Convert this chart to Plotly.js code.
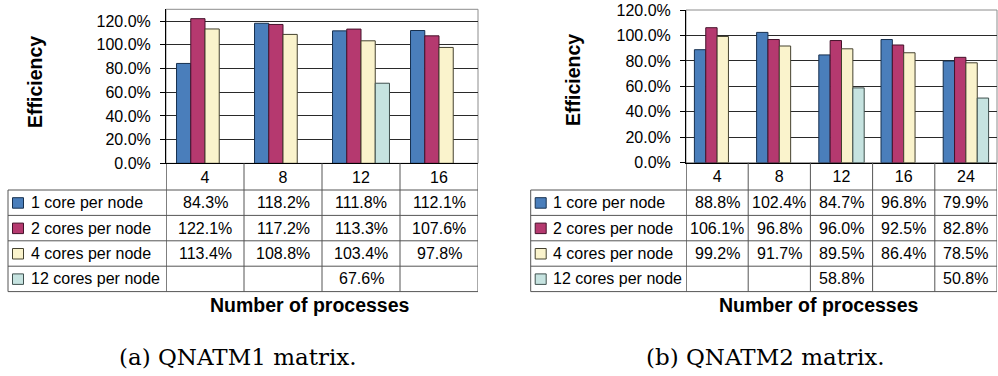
<!DOCTYPE html>
<html>
<head>
<meta charset="utf-8">
<script src="https://cdn.plot.ly/plotly-3.0.1.min.js"></script>
<style>
  html, body { margin: 0; padding: 0; background: #fff; }
  #chart { width: 998px; height: 376px; }
</style>
</head>
<body>
<div id="chart"></div>
<script>
// Process counts for each matrix
const procsQ1 = ['4', '8', '12', '16'];
const procsQ2 = ['4', '8', '12', '16', '24'];
const seriesNames = ['1 core per node', '2 cores per node', '4 cores per node', '12 cores per node'];

// Parallel efficiency (%) - QNATM1
const q1Core1 = [84.3, 118.2, 111.8, 112.1];
const q1Core2 = [122.1, 117.2, 113.3, 107.6];
const q1Core4 = [113.4, 108.8, 103.4, 97.8];
const q1Core12 = [null, null, 67.6, null];

// Parallel efficiency (%) - QNATM2
const q2Core1 = [88.8, 102.4, 84.7, 96.8, 79.9];
const q2Core2 = [106.1, 96.8, 96.0, 92.5, 82.8];
const q2Core4 = [99.2, 91.7, 89.5, 86.4, 78.5];
const q2Core12 = [null, null, 58.8, null, 50.8];

const yTicks = [0, 20, 40, 60, 80, 100, 120];
const yTickLabels = ['0.0%', '20.0%', '40.0%', '60.0%', '80.0%', '100.0%', '120.0%'];
const captions = ['(a) QNATM1 matrix.', '(b) QNATM2 matrix.'];
const yTitle = 'Efficiency';
const xTitle = 'Number of processes';

// Styling
const fills = ['#4a7ebb', '#b5396f', '#faf3cc', '#c6e3e0'];
const edges = ['#17304f', '#45122b', '#45422f', '#3f504e'];
const SANS = 'Liberation Sans, Arial, sans-serif';
const SERIF = 'DejaVu Serif, serif';
const W = 998, H = 376;
const TABLE_TOP = 190, ROW_H = 25.4;
const LINE = '#555';

const px = x => x / W;
const py = y => 1 - y / H;

const panels = [
  { cats: procsQ1, series: [q1Core1, q1Core2, q1Core4, q1Core12], xa: 'x', ya: 'y',
    plotL: 166, plotR: 478, plotT: 9.3, plotB: 163.3, ymax: 130,
    tableL: 8, titleX: 35, titleY: 82, xTitleX: 310, captionX: 238 },
  { cats: procsQ2, series: [q2Core1, q2Core2, q2Core4, q2Core12], xa: 'x2', ya: 'y2',
    plotL: 686, plotR: 997, plotT: 10, plotB: 162.7, ymax: 120,
    tableL: 530.7, titleX: 573, titleY: 80, xTitleX: 819, captionX: 765 }
];

const traces = [];
const shapes = [];
const annotations = [];
const layout = {
  width: W, height: H,
  margin: { l: 0, r: 0, t: 0, b: 0 },
  paper_bgcolor: '#fff', plot_bgcolor: '#fff',
  showlegend: false,
  barmode: 'group', bargap: 0.27, bargroupgap: 0,
  font: { family: SANS, size: 16, color: '#000' }
};

panels.forEach((p, pi) => {
  const nRows = p.series.length;
  const tableBottom = TABLE_TOP + ROW_H * nRows;

  // bars
  p.series.forEach((vals, si) => {
    traces.push({
      type: 'bar', name: seriesNames[si], x: p.cats, y: vals,
      xaxis: p.xa, yaxis: p.ya,
      marker: { color: fills[si], line: { color: edges[si], width: 1 } },
      hoverinfo: 'skip'
    });
  });

  const xKey = pi === 0 ? 'xaxis' : 'xaxis2';
  const yKey = pi === 0 ? 'yaxis' : 'yaxis2';
  layout[xKey] = {
    type: 'category', domain: [px(p.plotL), px(p.plotR)], anchor: p.ya,
    range: [-0.5, p.cats.length - 0.5],
    showline: true, linecolor: '#000', linewidth: 1,
    ticks: '', showgrid: false, zeroline: false,
    tickfont: { family: SANS, size: 16, color: '#000' },
    ticklabelstandoff: -1, fixedrange: true
  };
  layout[yKey] = {
    domain: [py(p.plotB), py(p.plotT)], anchor: p.xa,
    range: [0, p.ymax], tickmode: 'array', tickvals: yTicks, ticktext: yTickLabels,
    showline: true, linecolor: '#000', linewidth: 1,
    ticks: 'outside', ticklen: 5, tickcolor: '#000',
    showgrid: true, gridcolor: '#2a2a2a', gridwidth: 1, zeroline: false,
    tickfont: { family: SANS, size: 16, color: '#000' },
    ticklabelstandoff: 6, fixedrange: true
  };

  // plot-area frame
  shapes.push({ type: 'rect', xref: p.xa + ' domain', yref: p.ya + ' domain',
    x0: 0, x1: 1, y0: 0, y1: 1, line: { color: '#8c8c8c', width: 1 }, layer: 'below' });

  // column separators through the category row and data table
  for (let i = 0; i <= p.cats.length; i++) {
    shapes.push({ type: 'line', xref: p.xa, yref: 'paper',
      x0: i - 0.5, x1: i - 0.5, y0: py(p.plotB), y1: py(tableBottom),
      line: { color: i === 0 ? '#000' : LINE, width: 1 } });
  }
  // row rules
  for (let r = 0; r <= nRows; r++) {
    shapes.push({ type: 'line', xref: 'paper', yref: 'paper',
      x0: px(p.tableL), x1: px(p.plotR), y0: py(TABLE_TOP + r * ROW_H), y1: py(TABLE_TOP + r * ROW_H),
      line: { color: LINE, width: 1 } });
  }
  // table left edge
  shapes.push({ type: 'line', xref: 'paper', yref: 'paper',
    x0: px(p.tableL), x1: px(p.tableL), y0: py(TABLE_TOP), y1: py(tableBottom),
    line: { color: LINE, width: 1 } });

  // legend keys + row labels + values
  p.series.forEach((vals, si) => {
    const cy = TABLE_TOP + ROW_H * (si + 0.5);
    shapes.push({ type: 'rect', xref: 'paper', yref: 'paper',
      x0: px(p.tableL + 4.5), x1: px(p.tableL + 15.5), y0: py(cy - 5), y1: py(cy + 5.5),
      fillcolor: fills[si], line: { color: edges[si], width: 1 } });
    annotations.push({ xref: 'paper', yref: 'paper', x: px(p.tableL + 20.5), y: py(cy),
      xanchor: 'left', yanchor: 'middle', showarrow: false, text: seriesNames[si],
      font: { family: SANS, size: 16, color: '#000' } });
    vals.forEach((v, ci) => {
      if (v === null) return;
      annotations.push({ xref: p.xa, yref: 'paper', x: ci, y: py(cy),
        xanchor: 'center', yanchor: 'middle', showarrow: false, text: v.toFixed(1) + '%',
        font: { family: SANS, size: 16, color: '#000' } });
    });
  });

  // axis titles
  annotations.push({ xref: 'paper', yref: 'paper', x: px(p.titleX), y: py(p.titleY),
    xanchor: 'center', yanchor: 'middle', textangle: -90, showarrow: false,
    text: '<b>' + yTitle + '</b>', font: { family: SANS, size: 19.5, color: '#000' } });
  annotations.push({ xref: 'paper', yref: 'paper', x: px(p.xTitleX), y: py(305),
    xanchor: 'center', yanchor: 'middle', showarrow: false,
    text: '<b>' + xTitle + '</b>', font: { family: SANS, size: 19.5, color: '#000' } });
  // sub-figure caption
  annotations.push({ xref: 'paper', yref: 'paper', x: px(p.captionX), y: py(357),
    xanchor: 'center', yanchor: 'middle', showarrow: false,
    text: captions[pi], font: { family: SERIF, size: 23, color: '#000' } });
});

layout.shapes = shapes;
layout.annotations = annotations;

Plotly.newPlot('chart', traces, layout, { displayModeBar: false, staticPlot: true });
</script>
</body>
</html>
